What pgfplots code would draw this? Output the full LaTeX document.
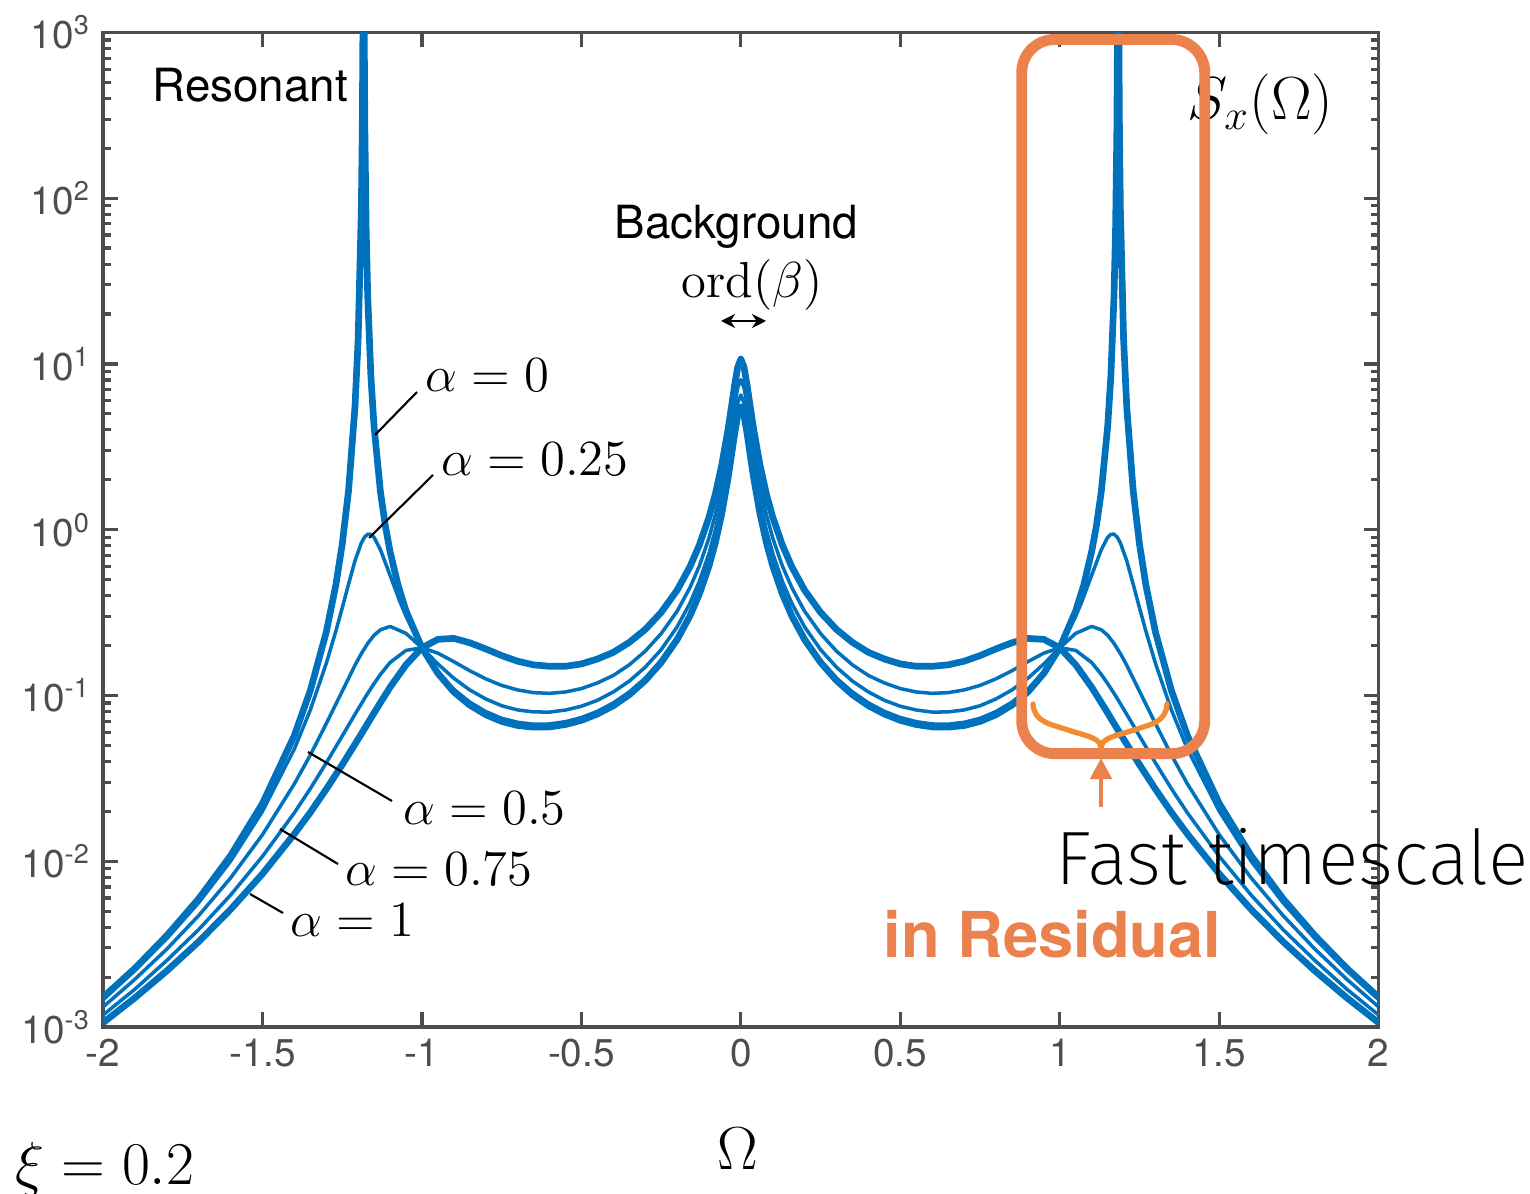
\documentclass[border=0pt]{standalone}
\usepackage[no-math]{fontspec}
\setmainfont{TeX Gyre Heros}
\IfFontExistsTF{Fira Sans ExtraLight}{\newfontfamily\lightfont{Fira Sans ExtraLight}}{%
  \IfFontExistsTF{Fira Sans Light}{\newfontfamily\lightfont{Fira Sans Light}}{\newfontfamily\lightfont{TeX Gyre Heros}}}
\usepackage{pgfplots}
\pgfplotsset{compat=1.18}
\usetikzlibrary{arrows.meta}

\definecolor{mblue}{HTML}{0072BD}
\definecolor{boxorange}{HTML}{EB814C}
\definecolor{braceorange}{HTML}{F28C33}
\definecolor{axgray}{HTML}{4D4D4D}

\begin{document}
\begin{tikzpicture}
\begin{axis}[
    name=ax, at={(0,0)}, anchor=south west,
    scale only axis, width=12.75cm, height=9.94cm,
    xmin=-2, xmax=2, ymin=1e-3, ymax=1e3, ymode=log,
    xtick={-2,-1.5,-1,-0.5,0,0.5,1,1.5,2},
    xticklabels={-2,-1.5,-1,-0.5,0,0.5,1,1.5,2},
    ytick={1e-3,1e-2,1e-1,1,10,100,1000},
    yticklabels={10\textsuperscript{-3},10\textsuperscript{-2},10\textsuperscript{-1},10\textsuperscript{0},10\textsuperscript{1},10\textsuperscript{2},10\textsuperscript{3}},
    minor ytick={2e-3,3e-3,4e-3,5e-3,6e-3,7e-3,8e-3,9e-3,
                 0.02,0.03,0.04,0.05,0.06,0.07,0.08,0.09,
                 0.2,0.3,0.4,0.5,0.6,0.7,0.8,0.9,
                 2,3,4,5,6,7,8,9,
                 20,30,40,50,60,70,80,90,
                 200,300,400,500,600,700,800,900},
    tick align=inside, tick pos=both,
    major tick length=0.15cm, minor tick length=0.08cm,
    axis line style={axgray, line width=0.9pt},
    major tick style={axgray, line width=0.9pt},
    minor tick style={axgray, line width=0.9pt},
    tick label style={font=\fontsize{11}{13}\selectfont, text=axgray},
    clip mode=individual,
]
% alpha = 0
\addplot[mblue, line width=1.9pt, line join=round] coordinates {
(-2,0.00151) (-1.9,0.00226) (-1.8,0.00356) (-1.7,0.00594) (-1.6,0.0108) (-1.5,0.0223)
(-1.4,0.0574) (-1.35,0.107) (-1.3,0.241) (-1.27,0.463) (-1.25,0.815) (-1.23,1.726)
(-1.21,5.47) (-1.2,14.1) (-1.19,84.9) (-1.187,262) (-1.185,1057) (-1.183,1e6)
(-1.181,1054) (-1.179,265) (-1.175,67.0) (-1.17,25.7) (-1.16,8.39) (-1.15,4.17)
(-1.13,1.690) (-1.115,1.062) (-1.1,0.740) (-1.075,0.463) (-1.05,0.324) (-1,0.194)
(-0.95,0.136) (-0.9,0.105) (-0.85,0.0875) (-0.8,0.0766) (-0.75,0.0697) (-0.7,0.0659)
(-0.65,0.0644) (-0.6,0.0646) (-0.55,0.0668) (-0.5,0.0708) (-0.45,0.0773) (-0.4,0.0867)
(-0.35,0.101) (-0.3,0.123) (-0.25,0.158) (-0.2,0.217)
(-0.16,0.301) (-0.13,0.410) (-0.1,0.604) (-0.08,0.836) (-0.06,1.247) (-0.04,2.061)
(-0.03,2.77) (-0.02,3.75) (-0.01,4.88) (0,5.46)
(0.01,4.88) (0.02,3.75) (0.03,2.77) (0.04,2.061) (0.06,1.247) (0.08,0.836)
(0.1,0.604) (0.13,0.410) (0.16,0.301) (0.2,0.217) (0.25,0.158) (0.3,0.123)
(0.35,0.101) (0.4,0.0867) (0.45,0.0773) (0.5,0.0708) (0.55,0.0668) (0.6,0.0646)
(0.65,0.0644) (0.7,0.0659) (0.75,0.0697) (0.8,0.0766)
(0.85,0.0875) (0.9,0.105) (0.95,0.136) (1,0.194) (1.05,0.324) (1.075,0.463)
(1.1,0.740) (1.115,1.062) (1.13,1.690) (1.15,4.17) (1.16,8.39) (1.17,25.7)
(1.175,67.0) (1.179,265) (1.181,1054) (1.183,1e6) (1.185,1057) (1.187,262)
(1.19,84.9) (1.2,14.1) (1.21,5.47) (1.23,1.726) (1.25,0.815) (1.27,0.463)
(1.3,0.241) (1.35,0.107) (1.4,0.0574) (1.5,0.0223) (1.6,0.0108) (1.7,0.00594)
(1.8,0.00356) (1.9,0.00226) (2,0.00151)
};
% alpha = 0.25
\addplot[mblue, line width=1.0pt, line join=round] coordinates {
(-2,0.00146) (-1.9,0.00219) (-1.8,0.00341) (-1.7,0.00562) (-1.6,0.0100) (-1.5,0.0200)
(-1.4,0.0476) (-1.35,0.0817) (-1.3,0.156) (-1.27,0.244) (-1.25,0.337) (-1.23,0.470)
(-1.21,0.649) (-1.19,0.832) (-1.18,0.902) (-1.17,0.940) (-1.16,0.938) (-1.15,0.899)
(-1.13,0.757) (-1.1,0.532) (-1.07,0.372) (-1.05,0.301) (-1,0.194) (-0.95,0.139)
(-0.9,0.109) (-0.85,0.0912) (-0.8,0.0800) (-0.75,0.0728) (-0.7,0.0689) (-0.65,0.0671)
(-0.6,0.0673) (-0.55,0.0695) (-0.5,0.0736) (-0.45,0.0802)
(-0.4,0.0902) (-0.35,0.105) (-0.3,0.127) (-0.25,0.163) (-0.2,0.225) (-0.16,0.311)
(-0.13,0.425) (-0.1,0.625) (-0.08,0.865) (-0.06,1.291) (-0.04,2.133) (-0.03,2.86)
(-0.02,3.88) (-0.01,5.05) (0,5.65)
(0.01,5.05) (0.02,3.88) (0.03,2.86) (0.04,2.133) (0.06,1.291) (0.08,0.865)
(0.1,0.625) (0.13,0.425) (0.16,0.311) (0.2,0.225) (0.25,0.163) (0.3,0.127)
(0.35,0.105) (0.4,0.0902) (0.45,0.0802) (0.5,0.0736) (0.55,0.0695) (0.6,0.0673)
(0.65,0.0671) (0.7,0.0689) (0.75,0.0728) (0.8,0.0800)
(0.85,0.0912) (0.9,0.109) (0.95,0.139) (1,0.194) (1.05,0.301) (1.07,0.372)
(1.1,0.532) (1.13,0.757) (1.15,0.899) (1.16,0.938) (1.17,0.940) (1.18,0.902)
(1.19,0.832) (1.21,0.649) (1.23,0.470) (1.25,0.337) (1.27,0.244) (1.3,0.156)
(1.35,0.0817) (1.4,0.0476) (1.5,0.0200) (1.6,0.0100) (1.7,0.00562) (1.8,0.00341)
(1.9,0.00219) (2,0.00146)
};
% alpha = 0.5
\addplot[mblue, line width=1.0pt, line join=round] coordinates {
(-2,0.00132) (-1.9,0.00194) (-1.8,0.00295) (-1.7,0.0047) (-1.6,0.00793) (-1.5,0.01445)
(-1.4,0.0293) (-1.35,0.0437) (-1.3,0.0676) (-1.25,0.106) (-1.21,0.152) (-1.19,0.179)
(-1.18,0.192) (-1.17,0.206) (-1.15,0.231) (-1.13,0.249) (-1.1,0.261) (-1.05,0.237)
(-1,0.194) (-0.95,0.155) (-0.9,0.127) (-0.85,0.108) (-0.8,0.0953) (-0.75,0.0867)
(-0.7,0.0818) (-0.65,0.0796) (-0.6,0.0794) (-0.55,0.0817) (-0.5,0.0861) (-0.45,0.0935)
(-0.4,0.105) (-0.35,0.122) (-0.3,0.148) (-0.25,0.189)
(-0.2,0.259) (-0.16,0.359) (-0.13,0.489) (-0.1,0.719) (-0.08,0.995) (-0.06,1.486)
(-0.04,2.455) (-0.03,3.29) (-0.02,4.47) (-0.01,5.81) (0,6.50)
(0.01,5.81) (0.02,4.47) (0.03,3.29) (0.04,2.455) (0.06,1.486) (0.08,0.995)
(0.1,0.719) (0.13,0.489) (0.16,0.359) (0.2,0.259) (0.25,0.189) (0.3,0.148)
(0.35,0.122) (0.4,0.105) (0.45,0.0935) (0.5,0.0861) (0.55,0.0817) (0.6,0.0794)
(0.65,0.0796) (0.7,0.0818) (0.75,0.0867) (0.8,0.0953)
(0.85,0.108) (0.9,0.127) (0.95,0.155) (1,0.194) (1.05,0.237) (1.1,0.261)
(1.13,0.249) (1.15,0.231) (1.17,0.206) (1.18,0.192) (1.19,0.179) (1.21,0.152)
(1.25,0.106) (1.3,0.0676) (1.35,0.0437) (1.4,0.0293) (1.5,0.01445) (1.6,0.00793)
(1.7,0.0047) (1.8,0.00295) (1.9,0.00194) (2,0.00132)
};
% alpha = 0.75
\addplot[mblue, line width=1.0pt, line join=round] coordinates {
(-2,0.00118) (-1.9,0.00169) (-1.8,0.00252) (-1.7,0.00387) (-1.6,0.00625) (-1.5,0.0107)
(-1.4,0.0196) (-1.35,0.0274) (-1.3,0.0392) (-1.25,0.0569) (-1.21,0.0769) (-1.19,0.0891)
(-1.18,0.0959) (-1.17,0.103) (-1.15,0.118) (-1.13,0.134) (-1.1,0.158) (-1.05,0.187)
(-1,0.194) (-0.95,0.180) (-0.9,0.160) (-0.85,0.141) (-0.8,0.126) (-0.75,0.115)
(-0.7,0.108) (-0.65,0.104) (-0.6,0.103) (-0.55,0.105) (-0.5,0.110) (-0.45,0.119)
(-0.4,0.132) (-0.35,0.153) (-0.3,0.185) (-0.25,0.236)
(-0.2,0.322) (-0.16,0.446) (-0.13,0.605) (-0.1,0.891) (-0.08,1.233) (-0.06,1.84)
(-0.04,3.04) (-0.03,4.07) (-0.02,5.53) (-0.01,7.19) (0,8.04)
(0.01,7.19) (0.02,5.53) (0.03,4.07) (0.04,3.04) (0.06,1.84) (0.08,1.233)
(0.1,0.891) (0.13,0.605) (0.16,0.446) (0.2,0.322) (0.25,0.236) (0.3,0.185)
(0.35,0.153) (0.4,0.132) (0.45,0.119) (0.5,0.110) (0.55,0.105) (0.6,0.103)
(0.65,0.104) (0.7,0.108) (0.75,0.115) (0.8,0.126)
(0.85,0.141) (0.9,0.160) (0.95,0.180) (1,0.194) (1.05,0.187) (1.1,0.158)
(1.13,0.134) (1.15,0.118) (1.17,0.103) (1.18,0.0959) (1.19,0.0891) (1.21,0.0769)
(1.25,0.0569) (1.3,0.0392) (1.35,0.0274) (1.4,0.0196) (1.5,0.0107) (1.6,0.00625)
(1.7,0.00387) (1.8,0.00252) (1.9,0.00169) (2,0.00118)
};
% alpha = 1
\addplot[mblue, line width=1.9pt, line join=round] coordinates {
(-2,0.00106) (-1.9,0.0015) (-1.8,0.00218) (-1.7,0.00327) (-1.6,0.00512) (-1.5,0.00839)
(-1.4,0.0146) (-1.35,0.0197) (-1.3,0.0272) (-1.25,0.0382) (-1.21,0.0508) (-1.19,0.0586)
(-1.17,0.0678) (-1.15,0.0785) (-1.13,0.0906) (-1.1,0.112) (-1.05,0.153) (-1,0.194)
(-0.95,0.218) (-0.9,0.221) (-0.85,0.208) (-0.8,0.191) (-0.75,0.174) (-0.7,0.161)
(-0.65,0.153) (-0.6,0.150) (-0.55,0.150) (-0.5,0.155) (-0.45,0.166)
(-0.4,0.182) (-0.35,0.209) (-0.3,0.250) (-0.25,0.317) (-0.2,0.431)
(-0.16,0.596) (-0.13,0.809) (-0.1,1.189) (-0.08,1.64) (-0.06,2.45) (-0.04,4.04)
(-0.03,5.42) (-0.02,7.34) (-0.01,9.55) (0,10.7)
(0.01,9.55) (0.02,7.34) (0.03,5.42) (0.04,4.04) (0.06,2.45) (0.08,1.64)
(0.1,1.189) (0.13,0.809) (0.16,0.596) (0.2,0.431) (0.25,0.317) (0.3,0.250)
(0.35,0.209) (0.4,0.182) (0.45,0.166) (0.5,0.155) (0.55,0.150) (0.6,0.150)
(0.65,0.153) (0.7,0.161) (0.75,0.174) (0.8,0.191)
(0.85,0.208) (0.9,0.221) (0.95,0.218) (1,0.194) (1.05,0.153) (1.1,0.112)
(1.13,0.0906) (1.15,0.0785) (1.17,0.0678) (1.19,0.0586) (1.21,0.0508) (1.25,0.0382)
(1.3,0.0272) (1.35,0.0197) (1.4,0.0146) (1.5,0.00839) (1.6,0.00512) (1.7,0.00327)
(1.8,0.00218) (1.9,0.0015) (2,0.00106)
};
\end{axis}

% annotations, placed in reference pixel units (origin top left)
\begin{scope}[x=0.01cm, y=-0.01cm, shift={(-103,-1027)}]
\node[anchor=base west, inner sep=0, font=\fontsize{13}{15}\selectfont] at (152,102) {Resonant};
\node[anchor=base west, inner sep=0, font=\fontsize{13}{15}\selectfont] at (614,239) {Background};
\node[anchor=base west, inner sep=0, font=\fontsize{13.5}{16}\selectfont] at (681,298) {$\mathrm{ord}(\beta)$};
\draw[{Stealth[length=4pt,width=4pt]}-{Stealth[length=4pt,width=4pt]}, line width=0.7pt] (721,321) -- (766,321);

\node[anchor=base west, inner sep=0, font=\fontsize{13.4}{16}\selectfont] at (425,392) {$\alpha = 0$};
\node[anchor=base west, inner sep=0, font=\fontsize{13.4}{16}\selectfont] at (441,476) {$\alpha = 0.25$};
\node[anchor=base west, inner sep=0, font=\fontsize{13.4}{16}\selectfont] at (403,825) {$\alpha = 0.5$};
\node[anchor=base west, inner sep=0, font=\fontsize{13.4}{16}\selectfont] at (345,886) {$\alpha = 0.75$};
\node[anchor=base west, inner sep=0, font=\fontsize{13.4}{16}\selectfont] at (290,937) {$\alpha = 1$};
\draw[line width=0.6pt] (375,435) -- (417,392);
\draw[line width=0.6pt] (369,538) -- (433,475);
\draw[line width=0.6pt] (308,752) -- (392,801);
\draw[line width=0.6pt] (280,829) -- (338,864);
\draw[line width=0.6pt] (250,894) -- (283,913);

\node[anchor=base west, inner sep=0, font=\fontsize{18}{21}\selectfont] at (1187,120) {$S_x(\Omega)$};

\draw[boxorange, line width=3.1pt, rounded corners=0.33cm] (1021.7,39.5) rectangle (1204.7,753.7);
\draw[braceorange, line width=1.5pt, line cap=round]
  (1033,704) .. controls (1034,722) and (1050,724) .. (1068,730)
  .. controls (1090,737) and (1100,738) .. (1101,748);
\draw[braceorange, line width=1.5pt, line cap=round]
  (1167,704) .. controls (1166,722) and (1152,724) .. (1134,730)
  .. controls (1112,737) and (1102,738) .. (1101,748);
\draw[boxorange, line width=1.3pt, -{Triangle[length=6pt,width=6pt]}] (1101,807) -- (1101,758);

\node[anchor=base west, inner sep=0, font=\lightfont\fontsize{21.5}{24}\selectfont] at (1055,885) {Fast timescale};
\node[anchor=base west, inner sep=0, text=boxorange, font=\bfseries\fontsize{18}{21}\selectfont] at (883,958) {in Residual};

\node[anchor=base west, inner sep=0, font=\fontsize{18.5}{22}\selectfont] at (15,1184) {$\xi = 0.2$};
\node[anchor=base, inner sep=0, font=\fontsize{17}{20}\selectfont] at (738,1170) {$\Omega$};

\pgfresetboundingbox
\path[use as bounding box] (0,0) rectangle (1530,1194);
\end{scope}
\end{tikzpicture}
\end{document}
